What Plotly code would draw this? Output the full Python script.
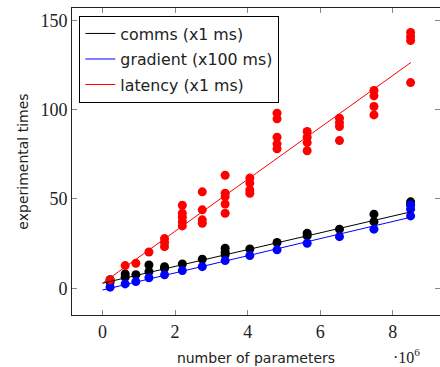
import plotly.graph_objects as go

# cluster positions (number of parameters, in units of 1e6)
params = [0.21, 0.625, 0.92, 1.28, 1.71, 2.2, 2.75, 3.38, 4.06, 4.81, 5.64, 6.53, 7.48, 8.49]

# measured values per cluster
comms = [[3.5, 4.8], [8.0, 6.2], [7.6], [13.0, 9.3], [12.1, 11.2], [13.6], [16.3],
         [22.4, 20.2, 18.7], [22.0], [25.6], [30.8, 29.3], [33.1], [41.5, 37.3], [48.4, 46.7]]
gradient = [[0.6], [2.4], [3.7], [5.9], [7.5], [9.9], [12.1], [15.5], [18.3], [21.5],
            [25.2], [28.9], [33.1], [46.7, 44.3, 40.5]]
latency = [[4.7], [12.7], [14.0], [20.3], [27.8, 25.6, 23.3],
           [46.5, 42.0, 39.8, 37.3, 34.9], [54.0, 43.9, 38.3, 36.4],
           [63.3, 53.2, 51.3, 47.2, 42.0], [61.7, 58.9, 55.1, 53.2],
           [98.1, 94.9, 84.6, 80.9, 78.1], [87.8, 84.6, 81.6, 77.0],
           [95.3, 92.8, 90.6, 82.7], [110.8, 107.8, 101.8, 97.1],
           [143.3, 141.0, 138.8, 115.2]]

# fitted trend lines (endpoints)
fit_x = [0, 8.5]
comms_fit = [2.8, 42.8]
gradient_fit = [-1.0, 39.8]
latency_fit = [2.8, 126.5]

x_ticks = [0, 2, 4, 6, 8]
x_ticktext = ["0", "2", "4", "6", "8"]
y_ticks = [0, 50, 100, 150]

names = ["comms (x1 ms)", "gradient (x100 ms)", "latency (x1 ms)"]
colors = ["#000000", "#0000ff", "#ff0000"]


def flatten(groups):
    xs, ys = [], []
    for x, g in zip(params, groups):
        for v in g:
            xs.append(x)
            ys.append(v)
    return xs, ys


fig = go.Figure()
for name, col, groups in zip(names, colors, [comms, gradient, latency]):
    xs, ys = flatten(groups)
    fig.add_trace(go.Scatter(x=xs, y=ys, mode="markers", showlegend=False,
                             marker=dict(color=col, size=9, line=dict(width=0))))
for i, (name, col, fit) in enumerate(zip(names, colors,
                                         [comms_fit, gradient_fit, latency_fit])):
    fig.add_trace(go.Scatter(x=fit_x, y=fit, mode="lines", name=name,
                             legendgroup="g%d" % i,
                             line=dict(color=col, width=1)))

serif = "Liberation Serif, DejaVu Serif, serif"
sans = "DejaVu Sans, sans-serif"

fig.update_layout(
    width=440, height=367,
    margin=dict(l=72, r=0, t=8, b=52),
    paper_bgcolor="white", plot_bgcolor="white",
    modebar=dict(bgcolor="rgba(0,0,0,0)", color="rgba(0,0,0,0)",
                 activecolor="rgba(0,0,0,0)"),
    showlegend=True,
    legend=dict(x=0.02, y=0.975, xanchor="left", yanchor="top",
                bordercolor="black", borderwidth=1, bgcolor="white",
                font=dict(family=sans, size=15.8, color="#222"),
                tracegroupgap=2, itemwidth=30),
    xaxis=dict(range=[-0.84, 9.3], tickvals=x_ticks, ticktext=x_ticktext,
               automargin=False,
               showgrid=False, zeroline=False, showline=True, mirror="ticks",
               linecolor="#222", linewidth=1, ticks="inside", ticklen=5,
               tickcolor="#888", tickfont=dict(family=serif, size=18, color="#222"),
               title=dict(text="number of parameters", standoff=12,
                          font=dict(family=sans, size=14, color="#222"))),
    yaxis=dict(range=[-15, 157], tickvals=y_ticks, automargin=False,
               showgrid=False, zeroline=False, showline=True, mirror="ticks",
               linecolor="#222", linewidth=1, ticks="inside", ticklen=5,
               tickcolor="#888", tickfont=dict(family=serif, size=18, color="#222"),
               title=dict(text="experimental times", standoff=8,
                          font=dict(family=sans, size=14, color="#222"))),
)
fig.add_annotation(text="·10<sup>6</sup>", xref="paper", yref="paper",
                   x=0.91, y=-0.135, xanchor="center", yanchor="middle",
                   showarrow=False, font=dict(family=serif, size=16, color="#222"))

fig.write_html(
    "out.html",
    post_script=("document.body.style.margin='0';"
                 "document.querySelectorAll('.modebar-container')"
                 ".forEach(function(e){e.style.display='none';});"),
)
